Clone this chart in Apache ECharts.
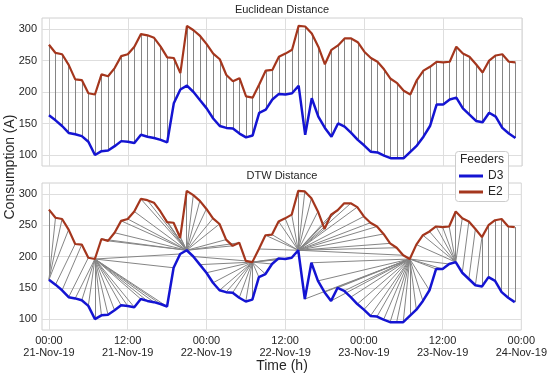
<!DOCTYPE html>
<html><head><meta charset="utf-8">
<script src="https://cdn.jsdelivr.net/npm/echarts@6/dist/echarts.min.js"></script>
<style>html,body{margin:0;padding:0;background:#fff}#c{width:550px;height:376px}</style>
</head><body><div id="c"></div>
<script>
// ---- data (hours since 21-Nov-19 00:00) ----
const hours = [0,1,2,3,4,5,6,7,8,9,10,11,12,13,14,15,16,17,18,19,20,21,22,23,24,25,26,27,28,29,30,31,32,33,34,35,36,37,38,39,40,41,42,43,44,45,46,47,48,49,50,51,52,53,54,55,56,57,58,59,60,61,62,63,64,65,66,67,68,69,70,71];
const d3 = [163,155,146,135,133,130,121,100,106,107,114,122,121,119,132,129,127,124,120,182,204,210,200,187,174,158,146,143,142,134,128,131,167,172,188,197,196,198,210,132,190,161,143,129,150,145,135,124,115,105,104,99,95,95,95,105,115,129,146,180,180,188,191,174,164,154,152,167,161,143,134,127];
const e2 = [275,262,260,243,220,219,198,196,228,225,238,257,260,272,292,290,286,272,255,254,230,305,298,289,276,261,252,227,217,222,193,191,212,234,235,256,261,267,305,304,293,272,244,267,274,285,285,279,264,254,248,236,221,214,202,196,219,234,240,248,247,248,272,261,256,244,231,250,258,260,248,247];
const tickHours = [0,12,24,36,48,60,72];
const tickTimes = ['00:00','12:00','00:00','12:00','00:00','12:00','00:00'];
const tickDates = ['21-Nov-19','21-Nov-19','22-Nov-19','22-Nov-19','23-Nov-19','23-Nov-19','24-Nov-19'];
const yTicks = [100,150,200,250,300];
const seriesNames = ['D3','E2'];

// ---- DTW warping path computed from the two series ----
function dtwPath(a, b) {
  const n = a.length, m = b.length;
  const D = Array.from({length: n + 1}, () => new Array(m + 1).fill(Infinity));
  D[0][0] = 0;
  for (let i = 1; i <= n; i++) for (let j = 1; j <= m; j++) {
    const c = (a[i-1] - b[j-1]) ** 2;
    D[i][j] = c + Math.min(D[i-1][j], D[i][j-1], D[i-1][j-1]);
  }
  const path = [];
  let i = n, j = m;
  while (i > 0 && j > 0) {
    path.push([i-1, j-1]);
    const dg = D[i-1][j-1], up = D[i-1][j], lf = D[i][j-1];
    if (dg <= up && dg <= lf) { i--; j--; }
    else if (up <= lf) { i--; }
    else { j--; }
  }
  return path.reverse();
}

const eucLines = hours.map((h, k) => ({coords: [[h, d3[k]], [h, e2[k]]]}));
const dtwLines = dtwPath(d3, e2).map(([i, j]) => ({coords: [[hours[i], d3[i]], [hours[j], e2[j]]]}));

const gridColor = '#dedede';
const txt = '#262626';
const font = 'Liberation Sans, Arial, sans-serif';
const xMin = -1.06, xMax = 72, yMin = 82.5, yMax = 317.5;

function xAxis(idx, showLabels) {
  return {
    type: 'value', gridIndex: idx, min: xMin, max: xMax,
    axisLine: {show: false},
    axisTick: {show: false, customValues: tickHours},
    splitLine: {show: true, lineStyle: {color: gridColor, width: 1}},
    axisLabel: {
      show: showLabels, customValues: tickHours, color: txt, fontSize: 11, fontFamily: font,
      margin: 5, lineHeight: 12,
      formatter: v => { const k = tickHours.indexOf(Math.round(v)); return k < 0 ? '' : tickTimes[k] + '\n' + tickDates[k]; }
    }
  };
}
function yAxis(idx) {
  return {
    type: 'value', gridIndex: idx, min: yMin, max: yMax,
    axisLine: {show: false},
    axisTick: {show: false, customValues: yTicks},
    splitLine: {show: true, lineStyle: {color: gridColor, width: 1}},
    axisLabel: {customValues: yTicks, color: txt, fontSize: 11, fontFamily: font, margin: 5}
  };
}
const blue = '#1414d2', brown = '#a4361d';

const option = {
  animation: false,
  backgroundColor: '#fff',
  grid: [
    {left: 42, top: 18, width: 480, height: 148, show: true, borderColor: '#d0d0d0', borderWidth: 1, backgroundColor: '#fff'},
    {left: 42, top: 183, width: 480, height: 147, show: true, borderColor: '#d0d0d0', borderWidth: 1, backgroundColor: '#fff'}
  ],
  xAxis: [xAxis(0, false), xAxis(1, true)],
  yAxis: [yAxis(0), yAxis(1)],
  legend: {
    orient: 'vertical', left: 459, top: 169, itemWidth: 24, itemHeight: 3, itemGap: 2, z: 30,
    icon: 'rect', padding: 0,
    textStyle: {color: txt, fontSize: 12, fontFamily: font, lineHeight: 14},
    data: seriesNames
  },
  graphic: [
    {type: 'text', z: 5, style: {text: 'Euclidean Distance', x: 282, y: 10, textAlign: 'center', textVerticalAlign: 'middle', font: '11px ' + font, fill: txt}},
    {type: 'text', z: 5, style: {text: 'DTW Distance', x: 282, y: 176, textAlign: 'center', textVerticalAlign: 'middle', font: '11px ' + font, fill: txt}},
    {type: 'text', z: 5, x: 10, y: 167, rotation: Math.PI / 2, style: {text: 'Consumption (A)', x: 0, y: 0, textAlign: 'center', textVerticalAlign: 'middle', font: '14px ' + font, fill: txt}},
    {type: 'text', z: 5, style: {text: 'Time (h)', x: 282, y: 366, textAlign: 'center', textVerticalAlign: 'middle', font: '14px ' + font, fill: txt}},
    {type: 'rect', z: 20, shape: {x: 455.5, y: 151.5, width: 53, height: 50, r: 3}, style: {fill: 'rgba(255,255,255,0.9)', stroke: '#cccccc', lineWidth: 1}},
    {type: 'text', z: 21, style: {text: 'Feeders', x: 482, y: 160, textAlign: 'center', textVerticalAlign: 'middle', font: '12px ' + font, fill: txt}}
  ],
  series: [
    {type: 'lines', coordinateSystem: 'cartesian2d', xAxisIndex: 0, yAxisIndex: 0, z: 1, silent: true,
     lineStyle: {color: '#858585', width: 1, opacity: 1}, data: eucLines},
    {type: 'lines', coordinateSystem: 'cartesian2d', xAxisIndex: 1, yAxisIndex: 1, z: 1, silent: true,
     lineStyle: {color: '#858585', width: 1, opacity: 1}, data: dtwLines},
    {name: 'D3', type: 'line', xAxisIndex: 0, yAxisIndex: 0, z: 3, symbol: 'none', color: blue,
     lineStyle: {width: 2.5, color: blue}, data: hours.map((h, k) => [h, d3[k]])},
    {name: 'E2', type: 'line', xAxisIndex: 0, yAxisIndex: 0, z: 3, symbol: 'none', color: brown,
     lineStyle: {width: 2.2, color: brown}, data: hours.map((h, k) => [h, e2[k]])},
    {name: 'D3', type: 'line', xAxisIndex: 1, yAxisIndex: 1, z: 3, symbol: 'none', color: blue,
     lineStyle: {width: 2.5, color: blue}, data: hours.map((h, k) => [h, d3[k]])},
    {name: 'E2', type: 'line', xAxisIndex: 1, yAxisIndex: 1, z: 3, symbol: 'none', color: brown,
     lineStyle: {width: 2.2, color: brown}, data: hours.map((h, k) => [h, e2[k]])}
  ]
};
echarts.init(document.getElementById('c'), null, {renderer: 'canvas'}).setOption(option);
</script>
</body></html>
